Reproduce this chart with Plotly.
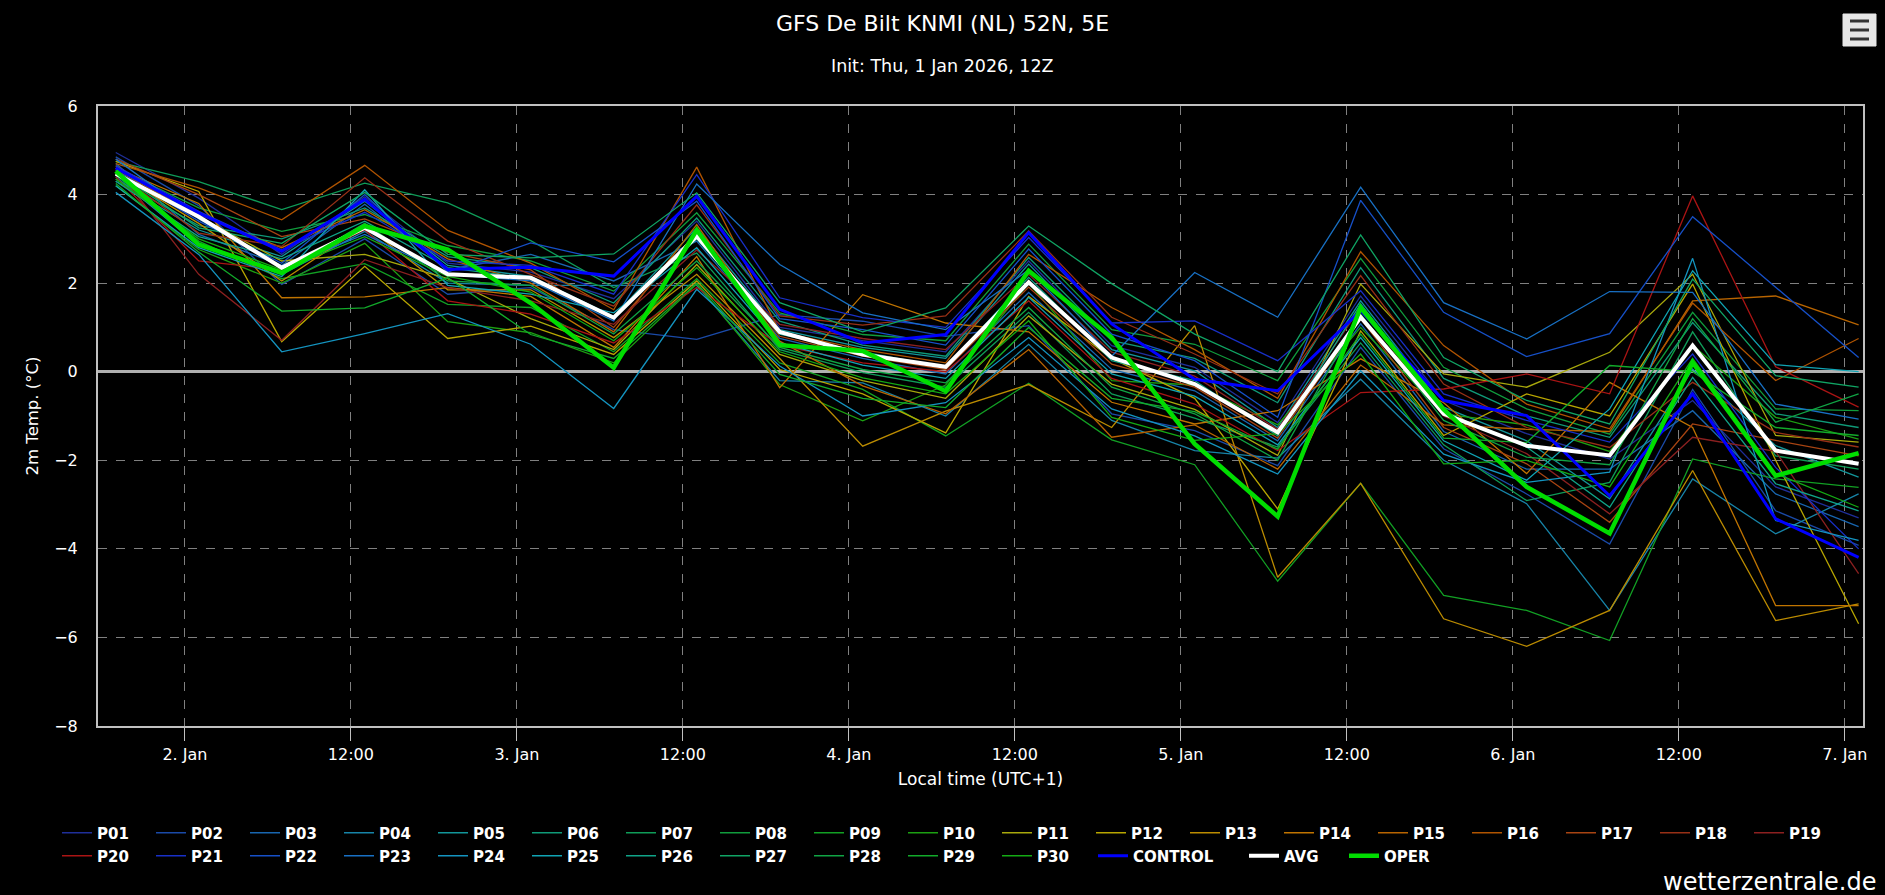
import pandas as pd
import plotly.graph_objects as go

# 6-hourly steps, local time (UTC+1)
times = pd.date_range("2026-01-01 19:00", periods=22, freq="6h")
tick_times = pd.date_range("2026-01-02 00:00", periods=11, freq="12h")
tick_text = ["2. Jan", "12:00", "3. Jan", "12:00", "4. Jan", "12:00",
             "5. Jan", "12:00", "6. Jan", "12:00", "7. Jan"]

# ensemble members, 2m temperature (°C)
P01 = [4.95, 3.92, 2.65, 3.95, 2.45, 2.25, 1.65, 3.4, 1.0, 0.7, 0.45, 2.5, 0.59, 0.1, -1.15, 1.71, -0.65, -1.4, -1.97, -0.65, -2.6, -3.3]
P02 = [4.85, 3.75, 1.97, 3.0, 1.75, 1.9, 0.95, 0.73, 1.29, 1.14, 0.8, 1.04, -0.95, -1.33, -2.12, 0.55, -1.74, -2.76, -3.89, -0.4, -3.14, -3.92]
P03 = [4.7, 3.1, 2.4, 3.78, 2.3, 2.65, 2.05, 2.95, 0.75, 0.3, -0.05, 1.79, 0.05, -0.43, -1.56, 1.08, -1.35, -2.2, -2.2, -0.88, -2.76, -3.5]
P04 = [4.4, 2.85, 2.2, 3.17, 2.0, 1.95, 1.95, 1.95, -0.2, -0.25, -1.0, 0.62, -1.1, -1.78, -1.95, -0.17, -2.0, -2.98, -5.39, -2.42, -3.66, -2.76]
P05 = [4.3, 3.2, 2.6, 3.85, 2.4, 2.15, 1.25, 3.25, 0.95, 0.55, 0.3, 2.43, 0.5, 0.02, -1.26, 1.6, -0.8, -1.56, -2.87, 0.06, -1.67, -2.38]
P06 = [4.35, 3.3, 3.0, 3.7, 2.6, 2.35, 1.55, 3.47, 1.14, 0.6, 0.35, 2.58, 0.7, 0.3, -0.7, 2.35, -0.15, -1.0, -1.48, 1.11, -0.95, -1.26]
P07 = [4.75, 4.29, 3.66, 4.26, 3.81, 2.96, 1.9, 2.68, 0.5, -0.02, -0.35, 1.34, -0.5, -1.05, -1.7, 0.65, -1.65, -2.91, -2.5, 0.9, -1.9, -2.2]
P08 = [4.6, 3.7, 3.17, 3.55, 2.85, 2.5, 1.82, 3.59, 1.33, 0.84, 0.7, 2.88, 0.95, 0.62, -0.2, 2.56, 0.1, -0.84, -1.41, 1.34, -0.84, -0.88]
P09 = [4.45, 2.95, 2.1, 2.44, 1.52, 1.45, 0.45, 2.1, 0.2, -0.4, -1.45, -0.26, -1.54, -2.1, -4.73, -2.52, -5.05, -5.39, -6.07, -1.97, -2.42, -2.61]
P10 = [4.2, 2.76, 2.0, 2.9, 1.13, 0.88, 0.2, 1.98, -0.29, -1.11, -0.3, 2.0, -0.2, -0.3, -1.2, 1.0, -0.95, -1.2, -1.8, 0.6, -1.03, -1.52]
P11 = [4.65, 3.5, 2.5, 2.65, 2.1, 1.2, 0.5, 2.42, 0.39, -0.2, -0.6, 1.26, -0.28, -0.85, -1.89, 1.98, -0.05, -0.35, 0.44, 2.2, -1.44, -1.59]
P12 = [4.75, 4.07, 0.68, 2.38, 0.75, 1.03, 0.39, 2.05, 0.05, -0.5, -1.38, 1.7, 0.3, -0.6, -3.1, 0.92, -1.44, -0.5, -1.0, 1.98, -2.0, -5.69]
P13 = [4.5, 3.35, 2.05, 3.3, 1.85, 1.85, 0.77, 2.2, 0.3, -1.68, -0.89, -0.29, -1.26, 1.04, -4.64, -2.52, -5.58, -6.2, -5.39, -2.23, -5.62, -5.24]
P14 = [4.6, 3.8, 1.67, 1.69, 1.9, 1.7, 0.55, 2.6, -0.36, 1.74, 1.1, 0.9, -0.69, -1.18, -0.88, 0.29, -0.7, -2.3, -0.24, -1.26, -5.28, -5.28]
P15 = [4.55, 3.55, 2.8, 3.66, 2.55, 2.0, 0.9, 3.32, 0.69, -0.32, -0.95, 0.5, -1.48, -1.2, -2.2, 0.15, -1.2, -1.3, -1.35, 1.6, 1.71, 1.06]
P16 = [4.7, 4.15, 3.43, 4.66, 3.19, 2.45, 1.4, 4.62, 0.9, 0.5, 0.2, 2.65, 1.45, 0.5, -0.6, 2.71, 0.59, -0.73, -1.29, 1.55, -0.2, 0.75]
P17 = [4.8, 4.0, 3.05, 3.45, 2.7, 2.3, 1.0, 3.15, 0.8, 0.35, 0.05, 1.91, 0.17, -0.35, -1.5, 1.2, -1.26, -2.08, -3.4, -1.18, -1.55, -1.9]
P18 = [4.5, 3.13, 2.83, 4.38, 2.95, 2.2, 1.48, 3.77, 1.26, 1.05, 1.26, 3.18, 1.23, 0.4, -0.5, 2.17, -0.28, -1.26, -1.71, -0.24, -1.37, -1.7]
P19 = [4.6, 2.2, 0.71, 2.53, 1.9, 1.6, 1.07, 2.75, 1.07, 0.75, 0.5, 2.2, 0.44, -0.1, -1.3, 1.45, -1.0, -1.85, -3.21, -1.48, -1.8, -4.56]
P20 = [4.4, 2.5, 2.3, 3.2, 1.6, 1.3, 0.65, 1.9, 0.6, 0.2, 0.0, 1.6, -0.15, -0.73, -1.78, -0.47, -0.39, -0.05, -0.5, 3.97, 0.11, -0.8]
P21 = [4.65, 3.62, 2.75, 3.6, 2.5, 2.4, 1.75, 4.45, 1.67, 1.22, 1.0, 3.03, 1.1, 1.15, 0.25, 1.83, -0.5, -1.1, -1.59, 0.4, -2.16, -4.0]
P22 = [4.55, 3.4, 2.45, 4.0, 2.25, 2.91, 2.48, 3.85, 1.2, 0.95, 0.6, 2.77, 0.85, 0.25, -1.03, 3.87, 1.34, 0.34, 0.86, 3.5, 1.91, 0.32]
P23 = [4.8, 3.45, 2.35, 3.1, 2.2, 2.05, 1.15, 4.24, 2.42, 1.33, 0.95, 2.3, 0.35, 2.24, 1.23, 4.17, 1.56, 0.74, 1.81, 1.79, -0.73, -1.07]
P24 = [4.05, 2.65, 0.45, 0.86, 1.31, 0.62, -0.83, 1.86, 0.13, -1.0, -0.7, 0.77, -0.84, -1.45, -2.31, 0.02, -1.86, -2.5, -2.27, 2.56, -3.36, -3.81]
P25 = [4.2, 2.8, 2.15, 4.11, 1.95, 1.75, 1.33, 2.8, 0.65, 0.15, -0.15, 1.68, -0.05, -0.55, -1.65, 0.77, -1.56, -2.45, -0.84, 2.28, 0.16, 0.0]
P26 = [4.3, 3.05, 2.55, 3.4, 2.35, 2.1, 1.2, 3.0, 0.85, 0.45, 0.1, 2.13, 0.25, -0.2, -1.45, 1.53, -0.9, -1.7, -3.06, -0.13, -2.53, -3.14]
P27 = [4.5, 3.25, 2.9, 4.05, 2.65, 2.57, 2.66, 4.04, 1.56, 0.9, 1.44, 3.29, 1.99, 0.85, 0.0, 3.09, 0.32, -0.65, -1.18, 2.09, -0.09, -0.35]
P28 = [4.45, 2.9, 2.25, 3.35, 2.05, 1.95, 0.85, 2.5, 0.55, 0.05, -0.25, 1.45, -0.35, -0.95, -2.0, 1.3, -1.1, -1.93, -2.1, 1.2, -1.14, -0.5]
P29 = [4.25, 2.7, 1.37, 1.44, 2.12, 0.84, 0.3, 2.0, -0.06, -0.6, -0.81, 1.0, -0.6, -0.9, -1.75, 0.85, -1.5, -1.6, 0.14, 0.0, -1.26, -1.44]
P30 = [4.35, 3.0, 2.3, 3.05, 2.15, 1.8, 0.7, 2.35, 0.45, -0.14, -0.5, 1.15, -1.03, -1.55, -1.4, 0.4, -2.08, -2.0, -2.6, 0.3, -2.3, -3.06]

control = [4.6, 3.58, 2.72, 3.89, 2.31, 2.36, 2.16, 3.96, 1.41, 0.65, 0.84, 3.14, 1.08, -0.17, -0.43, 1.38, -0.65, -0.99, -2.8, -0.5, -3.32, -4.19]
avg = [4.47, 3.5, 2.35, 3.25, 2.2, 2.12, 1.22, 3.06, 0.9, 0.39, 0.11, 2.02, 0.32, -0.28, -1.37, 1.23, -0.95, -1.67, -1.89, 0.59, -1.78, -2.08]
oper = [4.53, 2.87, 2.23, 3.29, 2.76, 1.55, 0.09, 3.2, 0.6, 0.47, -0.44, 2.28, 0.77, -1.63, -3.27, 1.45, -0.85, -2.6, -3.65, 0.21, -2.35, -1.84]

members = [P01, P02, P03, P04, P05, P06, P07, P08, P09, P10,
           P11, P12, P13, P14, P15, P16, P17, P18, P19, P20,
           P21, P22, P23, P24, P25, P26, P27, P28, P29, P30]
member_names = ["P%02d" % (i + 1) for i in range(30)]
member_colors = [
    "#1f2f9a", "#1a4aa8", "#1866b0", "#1784a8", "#12969a",
    "#0f9a78", "#0f9c58", "#109c3c", "#12a024", "#1ca012",
    "#a8a80c", "#b8a600", "#bc8c00", "#c07400", "#b86400",
    "#b05400", "#a84412", "#983016", "#8c2020", "#aa1414",
    "#1830c8", "#1650c8", "#1870c4", "#1494c0", "#10a4b4",
    "#10a488", "#10a464", "#10a444", "#12aa2a", "#14aa14",
]

fig = go.Figure()

for i, vals in enumerate(members):
    fig.add_trace(go.Scatter(
        x=times, y=vals, name=member_names[i], mode="lines",
        line=dict(color=member_colors[i], width=1.3),
        legend="legend" if i < 19 else "legend2",
    ))

fig.add_trace(go.Scatter(x=times, y=control, name="CONTROL", mode="lines",
                         line=dict(color="#0000ff", width=3), legend="legend5"))
fig.add_trace(go.Scatter(x=times, y=avg, name="AVG", mode="lines",
                         line=dict(color="#ffffff", width=4), legend="legend3"))
fig.add_trace(go.Scatter(x=times, y=oper, name="OPER", mode="lines",
                         line=dict(color="#00dd00", width=4.5), legend="legend4"))

font = "DejaVu Sans"
legend_style = dict(orientation="h", xanchor="left", yanchor="middle",
                    entrywidth=49, entrywidthmode="pixels",
                    bgcolor="rgba(0,0,0,0)", tracegroupgap=0,
                    font=dict(family=font, size=15, color="#ffffff", weight="bold"))
single_style = dict(orientation="h", xanchor="left", yanchor="middle",
                    bgcolor="rgba(0,0,0,0)",
                    font=dict(family=font, size=15, color="#ffffff", weight="bold"))

row1 = (726 - 833) / 620
row2 = (726 - 856) / 620

fig.update_layout(
    width=1885, height=895,
    margin=dict(l=98, r=22, t=106, b=169),
    paper_bgcolor="#000000", plot_bgcolor="#000000",
    font=dict(family=font, color="#ffffff"),
    showlegend=True,
    title=dict(text="GFS De Bilt KNMI (NL) 52N, 5E", x=0.5, xanchor="center",
               y=1 - 23 / 895, yanchor="middle",
               font=dict(family=font, size=22, color="#ffffff")),
    legend=dict(x=(57 - 98) / 1765, y=row1, **legend_style),
    legend2=dict(x=(57 - 98) / 1765, y=row2, **legend_style),
    legend5=dict(x=(1093 - 98) / 1765, y=row2, **single_style),
    legend3=dict(x=(1244 - 98) / 1765, y=row2, **single_style),
    legend4=dict(x=(1344 - 98) / 1765, y=row2, **single_style),
    xaxis=dict(
        range=["2026-01-01 17:43", "2026-01-07 01:19"],
        tickvals=tick_times, ticktext=tick_text,
        ticks="outside", ticklen=13, tickcolor="#c0c0c0", tickwidth=1,
        tickfont=dict(family=font, size=16, color="#ffffff"),
        showgrid=True, gridcolor="#808080", griddash="dash", gridwidth=1,
        showline=True, mirror=True, linecolor="#c0c0c0", linewidth=2,
        zeroline=False,
        title=dict(text="Local time (UTC+1)", standoff=10,
                   font=dict(family=font, size=17, color="#ffffff")),
    ),
    yaxis=dict(
        range=[-8, 6], dtick=2, tick0=-8,
        ticks="", ticklabelstandoff=15,
        tickfont=dict(family=font, size=16, color="#ffffff"),
        showgrid=True, gridcolor="#808080", griddash="dash", gridwidth=1,
        showline=True, mirror=True, linecolor="#c0c0c0", linewidth=2,
        zeroline=True, zerolinecolor="#b0b0b0", zerolinewidth=3,
        title=dict(text="2m Temp. (°C)", standoff=11,
                   font=dict(family=font, size=16.5, color="#ffffff")),
    ),
    annotations=[
        dict(text="Init: Thu, 1 Jan 2026, 12Z", xref="paper", yref="paper",
             x=(942 - 98) / 1765, y=(726 - 66) / 620, xanchor="center", yanchor="middle",
             showarrow=False, font=dict(family=font, size=17.5, color="#ffffff")),
        dict(text="wetterzentrale.de", xref="paper", yref="paper",
             x=(1878 - 98) / 1765, y=(726 - 882) / 620, xanchor="right", yanchor="middle",
             showarrow=False, font=dict(family=font, size=24, color="#ffffff")),
    ],
    shapes=[
        dict(type="rect", xref="paper", yref="paper",
             x0=(1843 - 98) / 1765, x1=(1876 - 98) / 1765,
             y0=(726 - 46) / 620, y1=(726 - 14) / 620,
             fillcolor="#e6e6e6", line=dict(color="#e6e6e6", width=1)),
    ] + [
        dict(type="line", xref="paper", yref="paper",
             x0=(1850 - 98) / 1765, x1=(1869 - 98) / 1765,
             y0=(726 - yy) / 620, y1=(726 - yy) / 620,
             line=dict(color="#333333", width=3))
        for yy in (21, 30, 39)
    ],
)

fig.write_html("out.html", config={"displayModeBar": False},
               post_script="document.body.style.margin='0';")
